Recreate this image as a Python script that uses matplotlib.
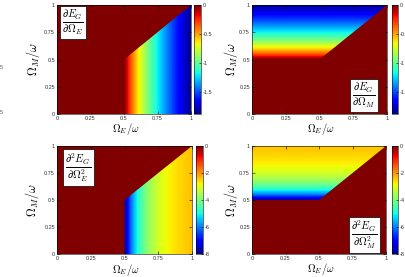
import numpy as np
import matplotlib
matplotlib.use("Agg")
import matplotlib.pyplot as plt
from matplotlib.patches import Polygon
from matplotlib.colors import Normalize

plt.rcParams['mathtext.fontset'] = 'cm'
plt.rcParams['font.family'] = ['Liberation Sans', 'DejaVu Sans']

# ---- data ----
# sample nodes of the coupling (Omega/omega) inside the superradiant region
omega_nodes = [0.5, 0.55, 0.6, 0.65, 0.7, 0.75, 0.8, 0.85, 0.9, 0.95, 1.0]
# first derivative of E_G along the ordered coupling
first_deriv = [0.0, -0.349, -0.621, -0.845, -1.036, -1.204, -1.356, -1.496, -1.629, -1.754, -1.875]
# second derivative of E_G along the ordered coupling
second_deriv = [-8.0, -6.098, -4.894, -4.101, -3.562, -3.185, -2.916, -2.718, -2.572, -2.460, -2.375]
outside_value = 0.0          # value in the normal / other phase
critical_point = 0.5
axis_ticks = [0, 0.25, 0.5, 0.75, 1]
axis_ticklabels = ['0', '0.25', '0.5', '0.75', '1']
cbar1_range = (-1.875, 0.0)
cbar1_ticks = [0, -0.5, -1, -1.5]
cbar1_labels = ['0', '-0.5', '-1', '-1.5']
cbar2_range = (-8.0, 0.0)
cbar2_ticks = [0, -2, -4, -6, -8]
cbar2_labels = ['0', '-2', '-4', '-6', '-8']
labels = [r'$\frac{\partial E_G}{\partial \Omega_E}$',
          r'$\frac{\partial E_G}{\partial \Omega_M}$',
          r'$\frac{\partial^2 E_G}{\partial \Omega_E^2}$',
          r'$\frac{\partial^2 E_G}{\partial \Omega_M^2}$']

W, H = 405, 277
fig = plt.figure(figsize=(W / 100, H / 100), dpi=100)


def px_axes(x0, x1, y0, y1):
    return fig.add_axes([x0 / W, 1 - y1 / H, (x1 - x0) / W, (y1 - y0) / H])


panels = [
    dict(ax=(57, 191, 5, 114), cb=(194, 201), vals=first_deriv, rng=cbar1_range,
         ticks=cbar1_ticks, tl=cbar1_labels, dirn='E', lab=labels[0], lpos=(0.118, 0.84),
         ylx=-0.11, xly=-0.06),
    dict(ax=(252, 387, 5, 114), cb=(392, 398), vals=first_deriv, rng=cbar1_range,
         ticks=cbar1_ticks, tl=cbar1_labels, dirn='M', lab=labels[1], lpos=(0.83, 0.17),
         ylx=-0.09, xly=-0.06),
    dict(ax=(57, 192, 146, 254), cb=(196, 203), vals=second_deriv, rng=cbar2_range,
         ticks=cbar2_ticks, tl=cbar2_labels, dirn='E', lab=labels[2], lpos=(0.16, 0.80),
         ylx=-0.12, xly=-0.072),
    dict(ax=(252, 386, 146, 254), cb=(392, 398), vals=second_deriv, rng=cbar2_range,
         ticks=cbar2_ticks, tl=cbar2_labels, dirn='M', lab=labels[3], lpos=(0.84, 0.176),
         ylx=-0.09, xly=-0.065),
]

cmap = plt.get_cmap('jet')

for p in panels:
    ax = px_axes(*p['ax'])
    norm = Normalize(vmin=p['rng'][0], vmax=p['rng'][1])
    # background (other phase)
    ax.pcolormesh([0, 1], [0, 1], np.array([[outside_value]]), cmap=cmap, norm=norm,
                  shading='flat', zorder=0.5)
    vals = np.array(p['vals'])
    dx = omega_nodes[1] - omega_nodes[0]
    c = critical_point
    if p['dirn'] == 'E':
        img = ax.imshow(vals[np.newaxis, :], cmap=cmap, norm=norm, aspect='auto',
                        interpolation='bilinear', origin='lower', zorder=1,
                        extent=[omega_nodes[0] - dx / 2, omega_nodes[-1] + dx / 2, 0, 1])
        poly = Polygon([[c, 0], [1, 0], [1, 1], [c, c]], closed=True,
                       transform=ax.transData, facecolor='none', edgecolor='none')
    else:
        img = ax.imshow(vals[:, np.newaxis], cmap=cmap, norm=norm, aspect='auto',
                        interpolation='bilinear', origin='lower', zorder=1,
                        extent=[0, 1, omega_nodes[0] - dx / 2, omega_nodes[-1] + dx / 2])
        poly = Polygon([[0, c], [c, c], [1, 1], [0, 1]], closed=True,
                       transform=ax.transData, facecolor='none', edgecolor='none')
    ax.add_patch(poly)
    img.set_clip_path(poly)
    ax.set_xlim(0, 1)
    ax.set_ylim(0, 1)
    ax.set_xticks(axis_ticks)
    ax.set_xticklabels(axis_ticklabels)
    ax.set_yticks(axis_ticks)
    ax.set_yticklabels(axis_ticklabels)
    ax.tick_params(direction='in', length=2, width=0.4, labelsize=4, pad=1.5,
                   colors='black', labelcolor='#333333', top=True, right=True)
    for s in ax.spines.values():
        s.set_linewidth(0.4)
        s.set_zorder(3)
    ax.set_xlabel(r'$\Omega_E/\omega$', fontsize=7.5)
    ax.set_ylabel(r'$\Omega_M/\omega$', fontsize=8.8)
    ax.xaxis.set_label_coords(0.51, p['xly'])
    ax.yaxis.set_label_coords(p['ylx'], 0.5)
    ax.text(p['lpos'][0], p['lpos'][1], p['lab'], transform=ax.transAxes,
            fontsize=11, ha='center', va='center', zorder=4,
            bbox=dict(boxstyle='square,pad=0.15', facecolor='white', edgecolor='black',
                      linewidth=0.5))
    # colorbar
    cx0, cx1 = p['cb']
    cax = px_axes(cx0, cx1, p['ax'][2], p['ax'][3])
    cb = fig.colorbar(img, cax=cax, ticks=p['ticks'])
    cb.ax.set_yticklabels(p['tl'])
    cb.ax.tick_params(direction='in', length=1.5, width=0.4, labelsize=4, pad=1.5,
                      labelcolor='#333333')
    cb.outline.set_linewidth(0.4)

# cropped remnants of neighbouring panel on the far left
fig.text(0.0, 1 - 68 / H, '5', fontsize=4, color='#555555', ha='left', va='center')
fig.text(0.0, 1 - 112 / H, '5', fontsize=4, color='#555555', ha='left', va='center')

fig.savefig('out.png', dpi=100)
